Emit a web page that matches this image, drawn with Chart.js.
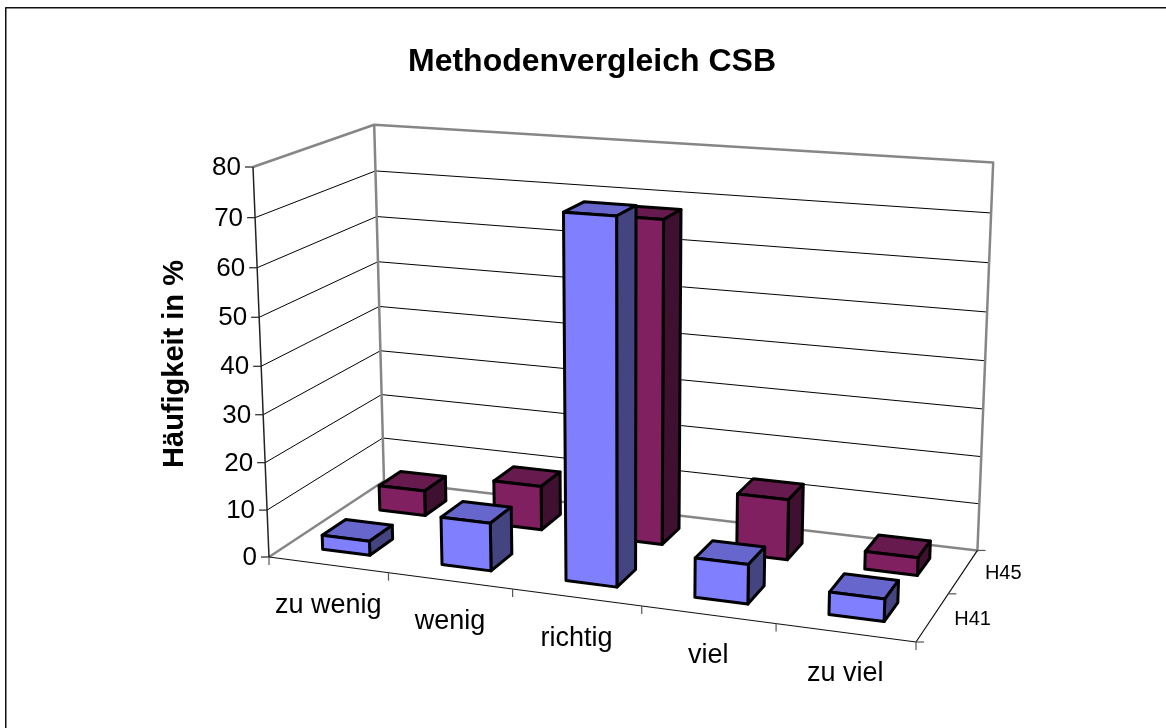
<!DOCTYPE html>
<html>
<head>
<meta charset="utf-8">
<title>Methodenvergleich CSB</title>
<script src="https://cdn.jsdelivr.net/npm/chart.js@4/dist/chart.umd.min.js"></script>
<style>
  html, body { margin: 0; padding: 0; background: #fff; }
  canvas { display: block; }
</style>
</head>
<body>
<canvas id="chart" width="1166" height="728"></canvas>
<script>
const categories = ['zu wenig', 'wenig', 'richtig', 'viel', 'zu viel'];
const h41Values = [3, 10, 73.8, 8, 4.5];
const h45Values = [5.5, 9.5, 68, 12.7, 3.7];
const seriesNames = ['H41', 'H45'];
const yTicks = [0, 10, 20, 30, 40, 50, 60, 70, 80];

const FONT = '"Liberation Sans", Arial, sans-serif';
const BAR_DEPTH = 0.4; // share of a depth band taken by the bar

// where the 3d box sits on the page, with a perspective weight per axis
const box = {
  origin: [269, 557],
  right: [916, 642],
  back: [384, 481],
  up: [253, 167],
  weights: [0.906, 1.1, 0.957]
};

const O = [box.origin[0], box.origin[1], 1];
const column = (p, k) => [p[0] * k - O[0], p[1] * k - O[1], k - 1];
const colU = column(box.right, box.weights[0]);
const colV = column(box.back, box.weights[1]);
const colW = column(box.up, box.weights[2]);

// u along the categories, v into the depth, w up the values, all 0..1
function project(u, v, w) {
  const p = [0, 1, 2].map(i => O[i] + u * colU[i] + v * colV[i] + w * colW[i]);
  return [p[0] / p[2], p[1] / p[2]];
}

function poly(ctx, pts, fill, stroke, width) {
  ctx.beginPath();
  pts.forEach((p, i) => i ? ctx.lineTo(p[0], p[1]) : ctx.moveTo(p[0], p[1]));
  if (fill) {
    ctx.closePath();
    ctx.fillStyle = fill;
    ctx.fill();
  }
  ctx.strokeStyle = stroke;
  ctx.lineWidth = width;
  ctx.lineJoin = 'round';
  ctx.stroke();
}

const box3d = {
  id: 'box3d',
  beforeDatasetsDraw(chart) {
    const { ctx, width, height, scales: { x, y } } = chart;
    const toW = value => (y.bottom - y.getPixelForValue(value)) / y.height;
    const toU = px => (px - x.left) / x.width;
    const GRAY = '#868686';

    ctx.save();

    // outer frame, right and bottom fall off the picture
    poly(ctx, [[5.75, height], [5.75, 7.75], [width, 7.75]], null, '#111', 1.5);

    // gridlines
    y.ticks.forEach(t => {
      const w = toW(t.value);
      if (w > 0 && w < 1) {
        poly(ctx, [project(0, 0, w), project(0, 1, w), project(1, 1, w)], null, '#000', 1);
      }
    });

    // walls and floor edges
    poly(ctx, [project(0, 0, 1), project(0, 1, 1), project(1, 1, 1), project(1, 1, 0), project(0, 1, 0), project(0, 0, 0)], null, GRAY, 2.5);
    poly(ctx, [project(0, 1, 1), project(0, 1, 0)], null, GRAY, 2.5);

    // axes
    poly(ctx, [project(0, 0, 1), project(0, 0, 0)], null, '#222', 1.5);
    poly(ctx, [project(0, 0, 0), project(1, 0, 0), project(1, 1, 0)], null, '#111', 1.2);

    // value axis ticks and labels
    ctx.textBaseline = 'middle';
    y.ticks.forEach(t => {
      const p = project(0, 0, toW(t.value));
      poly(ctx, [[p[0] - 8, p[1]], p], null, '#222', 1.2);
      ctx.font = '26px ' + FONT;
      ctx.textAlign = 'right';
      ctx.fillStyle = '#000';
      ctx.fillText(t.label, p[0] - 12, p[1] + 1);
    });

    // category ticks and labels
    categories.forEach((c, i) => {
      const mid = project((i + 0.5) / categories.length, 0, 0);
      ctx.font = '27px ' + FONT;
      ctx.textAlign = 'center';
      ctx.fillStyle = '#000';
      ctx.fillText(c, mid[0], mid[1] + 41);
    });
    for (let i = 0; i <= categories.length; i++) {
      const p = project(i / categories.length, 0, 0);
      poly(ctx, [p, [p[0], p[1] + 8]], null, '#555', 1.2);
    }

    // series ticks and labels
    seriesNames.forEach((name, i) => {
      const mid = project(1, (i + 0.5) / seriesNames.length, 0);
      ctx.font = '20px ' + FONT;
      ctx.textAlign = 'center';
      ctx.fillStyle = '#000';
      ctx.fillText(name, mid[0] + 40, mid[1] + 2);
    });
    for (let i = 0; i <= seriesNames.length; i++) {
      const p = project(1, i / seriesNames.length, 0);
      poly(ctx, [p, [p[0] + 8, p[1]]], null, '#555', 1.2);
    }

    // axis title
    ctx.save();
    ctx.translate(175, 364);
    ctx.rotate(-Math.PI / 2);
    ctx.font = 'bold 29px ' + FONT;
    ctx.textAlign = 'center';
    ctx.fillText(y.options.title.text, 0, 0);
    ctx.restore();

    // bars, back row first, right to left
    const order = chart.data.datasets.map((d, i) => i).reverse();
    order.forEach(di => {
      const ds = chart.data.datasets[di];
      const meta = chart.getDatasetMeta(di);
      const band = 1 / chart.data.datasets.length;
      const v0 = (di + (1 - BAR_DEPTH) / 2) * band;
      const v1 = v0 + BAR_DEPTH * band;
      [...meta.data].reverse().forEach(el => {
        const u0 = toU(el.x - el.width / 2);
        const u1 = toU(el.x + el.width / 2);
        const w0 = toW(0);
        const w1 = (y.bottom - el.y) / y.height;
        const [front, top, side] = ds.faces;
        const lw = 3;
        poly(ctx, [project(u0, v0, w1), project(u0, v1, w1), project(u1, v1, w1), project(u1, v0, w1)], top, '#000', lw);
        poly(ctx, [project(u1, v0, w0), project(u1, v1, w0), project(u1, v1, w1), project(u1, v0, w1)], side, '#000', lw);
        poly(ctx, [project(u0, v0, w0), project(u1, v0, w0), project(u1, v0, w1), project(u0, v0, w1)], front, '#000', lw);
      });
    });
    ctx.restore();
  },
  // the flat bars are replaced by the boxes above
  beforeDatasetDraw() {
    return false;
  }
};

new Chart(document.getElementById('chart'), {
  type: 'bar',
  data: {
    labels: categories,
    datasets: [
      { label: seriesNames[0], data: h41Values, backgroundColor: '#8080ff', faces: ['#8080ff', '#6666cc', '#444480'] },
      { label: seriesNames[1], data: h45Values, backgroundColor: '#802060', faces: ['#802060', '#661a4d', '#401030'] }
    ]
  },
  options: {
    responsive: false,
    animation: false,
    layout: { padding: { left: 18 } },
    datasets: { bar: { grouped: false, barPercentage: 0.4, categoryPercentage: 1 } },
    plugins: {
      legend: { display: false },
      tooltip: { enabled: false },
      title: {
        display: true,
        text: 'Methodenvergleich CSB',
        color: '#000',
        font: { family: FONT, size: 32, weight: 'bold' },
        padding: { top: 43, bottom: 10 }
      }
    },
    scales: {
      x: { display: false },
      y: {
        display: false,
        min: 0,
        max: 80,
        afterBuildTicks(scale) { scale.ticks = yTicks.map(value => ({ value, label: String(value) })); },
        title: { text: 'Häufigkeit in %' }
      }
    }
  },
  plugins: [box3d]
});
</script>
</body>
</html>
